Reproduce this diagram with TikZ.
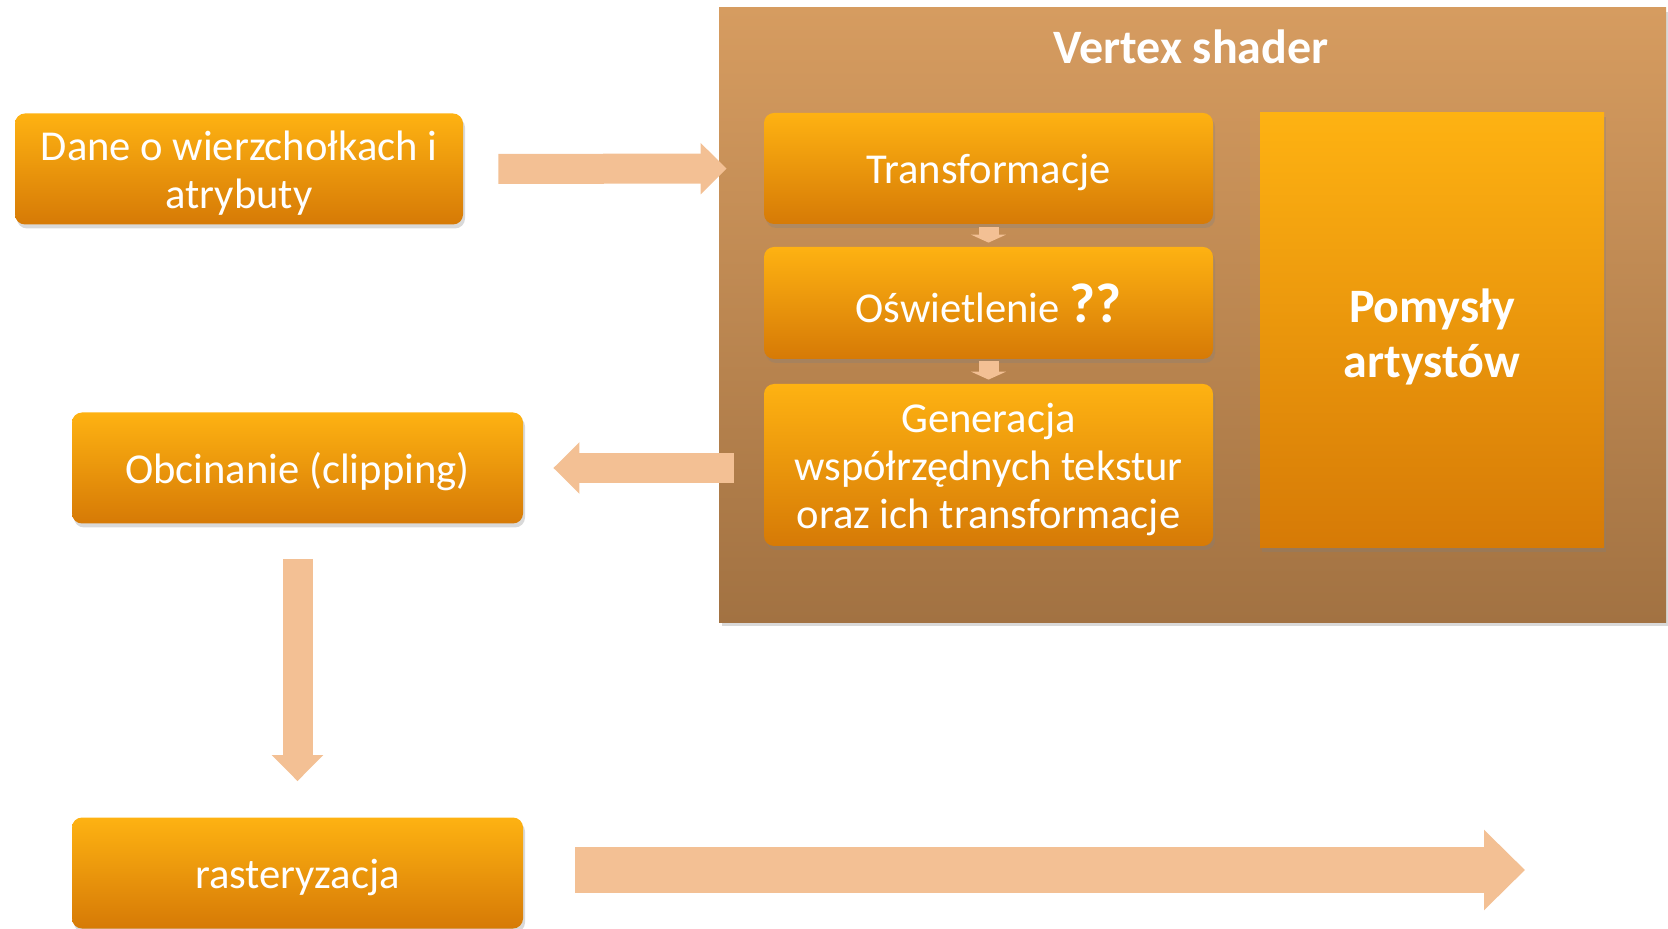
\documentclass[tikz,border=0pt]{standalone}
\usepackage{fontspec}
\setmainfont{Carlito}
\usepackage{xcolor}
\usetikzlibrary{arrows.meta,shadows}
\definecolor{boxtop}{RGB}{254,178,18}
\definecolor{boxbottom}{RGB}{214,122,6}
\definecolor{vstop}{RGB}{214,156,96}
\definecolor{vsbottom}{RGB}{162,114,66}
\definecolor{peach}{RGB}{243,192,148}
\newcommand{\topstrut}[1]{\rule{0pt}{#1}}

\begin{document}
\begin{tikzpicture}[x=0.5pt,y=-0.5pt,
		box/.style={rounded corners=5pt,top color=boxtop,bottom color=boxbottom,text=white,align=center,
			font=\fontsize{21.3}{24}\selectfont,minimum width=224.5pt,minimum height=55.5pt,inner sep=0pt,
			drop shadow={shadow xshift=1pt,shadow yshift=-2pt,opacity=0.3}},
		vsbox/.style={top color=vstop,bottom color=vsbottom,minimum width=473.5pt,minimum height=307pt,
			inner sep=0pt,drop shadow={shadow xshift=1.5pt,shadow yshift=-2pt,opacity=0.3}},
		fat/.style={draw=peach,line width=15pt,-{Triangle[width=25pt,length=13pt]}},
		bigfat/.style={draw=peach,line width=23pt,-{Triangle[width=39pt,length=20.5pt]}},
		small/.style={draw=peach,line width=10pt,-{Triangle[width=17.5pt,length=4pt]}}]
		\useasboundingbox (0,0) rectangle (1668,929);
		\clip (0,0) rectangle (1668,929);
		\node[box,minimum width=224pt] (dane) at (239,169) {\topstrut{19pt}Dane o wierzchołkach i\\atrybuty};
		\node[box,minimum width=225.5pt] (obc) at (297.5,468) {\topstrut{19pt}Obcinanie (clipping)};
		\node[box,minimum width=225.5pt] (ras) at (297.5,873) {\topstrut{19pt}rasteryzacja};
		\node[vsbox] (vs) at (1192.5,315) {};
		\node[text=white,font=\bfseries\fontsize{24}{28}\selectfont] (vstitle) at (1191,47) {Vertex shader};
		\node[box] (tr) at (988.5,168.5) {\topstrut{19pt}Transformacje};
		\node[box,minimum height=56pt] (osw) at (988.5,303) {Oświetlenie {\bfseries\fontsize{28}{28}\selectfont ??}};
		\node[box,minimum height=81pt] (gen) at (988.5,465) {\topstrut{19pt}Generacja\\współrzędnych tekstur\\oraz ich transformacje};
		\node[box,sharp corners,minimum width=172pt,minimum height=217.5pt,font=\bfseries\fontsize{24}{27.5}\selectfont] (pom) at (1432,330.5) {\topstrut{23pt}Pomysły\\artystów};
		\draw[small,shorten <=1.5pt,shorten >=2pt] (tr) -- (osw);
		\draw[small,shorten <=1pt,shorten >=2pt] (osw) -- (gen);
		\draw[fat,shorten <=17.5pt,shorten >=18.5pt] (dane) -- (tr);
		\draw[fat,shorten <=15pt,shorten >=15pt] (gen.west |- obc) -- (obc);
		\draw[fat,shorten <=17.5pt,shorten >=18pt] (obc) -- (ras);
		\coordinate (rasout) at (1525,870);
		\draw[bigfat,shorten <=26pt] (ras.east |- rasout) -- (rasout);
	\end{tikzpicture}
\end{document}
